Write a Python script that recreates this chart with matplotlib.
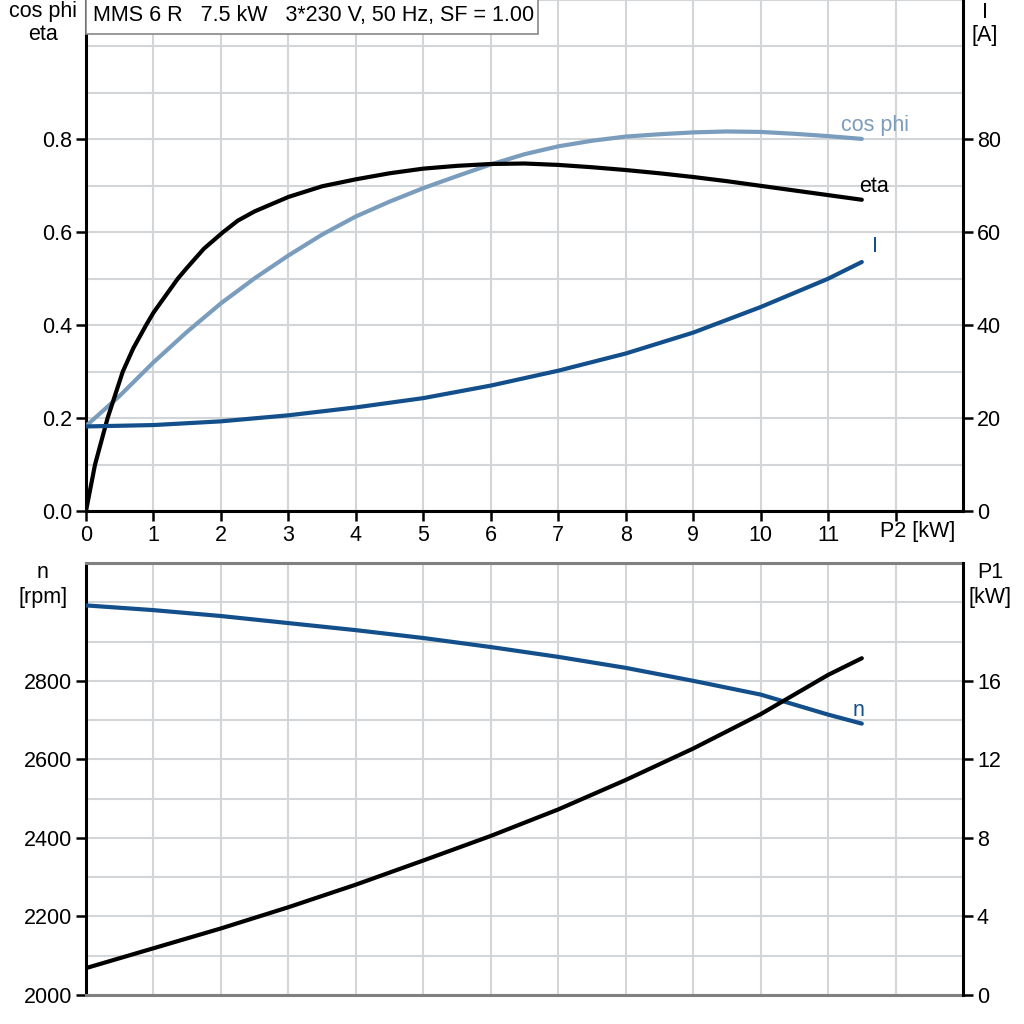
import matplotlib
matplotlib.use("Agg")
import matplotlib.pyplot as plt
from matplotlib.patches import Rectangle
import numpy as np

plt.rcParams['font.family'] = ['Liberation Sans', 'DejaVu Sans']

# ---- data ----
title = "MMS 6 R   7.5 kW   3*230 V, 50 Hz, SF = 1.00"

p2_eta = [0, 0.134, 0.32, 0.545, 0.7, 0.89, 1, 1.36, 1.5, 1.75, 2.03, 2.25, 2.5, 3, 3.5, 4,
          4.5, 5, 5.5, 6, 6.5, 7, 7.5, 8, 8.5, 9, 9.5, 10, 10.5, 11, 11.5]
eta = [0.0, 0.1, 0.2, 0.3, 0.35, 0.4, 0.427, 0.5, 0.524, 0.565, 0.6, 0.625, 0.645, 0.676,
       0.699, 0.714, 0.727, 0.737, 0.743, 0.747, 0.748, 0.745, 0.74, 0.734, 0.727, 0.719,
       0.71, 0.70, 0.69, 0.68, 0.67]

p2_cos = [0, 0.5, 1, 1.5, 2, 2.5, 3, 3.5, 4, 4.5, 5, 5.5, 6, 6.5, 7, 7.5, 8, 8.5, 9,
          9.5, 10, 10.5, 11, 11.5]
cosphi = [0.183, 0.248, 0.32, 0.386, 0.447, 0.501, 0.55, 0.595, 0.634, 0.666, 0.695, 0.721,
          0.746, 0.768, 0.785, 0.797, 0.806, 0.811, 0.815, 0.817, 0.816, 0.812, 0.807, 0.801]

p2_i = [0, 1, 2, 3, 4, 5, 6, 7, 8, 9, 10, 11, 11.5]
current = [18.2, 18.5, 19.3, 20.6, 22.3, 24.3, 27.0, 30.2, 33.9, 38.4, 43.9, 50.0, 53.6]

p2_n = [0, 1, 2, 3, 4, 5, 6, 7, 8, 9, 10, 11, 11.5]
speed = [2992, 2980, 2965, 2947, 2929, 2909, 2886, 2861, 2833, 2800, 2765, 2714, 2691]

p2_p1 = [0, 1, 2, 3, 4, 5, 6, 7, 8, 9, 10, 11, 11.5]
p1 = [1.37, 2.38, 3.39, 4.47, 5.62, 6.85, 8.1, 9.45, 10.95, 12.55, 14.3, 16.3, 17.15]

xticks = list(range(0, 13))
xticklabels = [str(v) for v in range(0, 12)] + [""]

LIGHT = "#7a9cbd"
DARK = "#134f8a"
GRID = "#d3d6d9"
LW = 3.0
FS = 15.5

W = H = 1024


def fx(px):
    return px / W


def fy(py):
    return 1 - py / H


fig = plt.figure(figsize=(10.24, 10.24), dpi=100)

# ---------- top panel ----------
ax1 = fig.add_axes([fx(86), fy(511), fx(963) - fx(86), fy(0) - fy(511)])
ax1.set_xlim(0, 13)
ax1.set_ylim(0, 1.1)
ax1.set_xticks(xticks)
ax1.set_xticklabels(xticklabels, fontsize=FS)
ax1.set_yticks([0, 0.2, 0.4, 0.6, 0.8])
ax1.set_yticklabels(["0.0", "0.2", "0.4", "0.6", "0.8"], fontsize=FS)
ax1.set_yticks(np.arange(0.1, 1.11, 0.1), minor=True)
ax1.tick_params(axis='y', which='minor', length=0)
ax1.grid(True, which='both', color=GRID, lw=1.5)
ax1.set_axisbelow(True)
ax1.tick_params(axis='both', which='major', direction='out', length=7, width=1.8, pad=3)
for s in ['left', 'bottom']:
    ax1.spines[s].set_linewidth(2.2)
    ax1.spines[s].set_color('black')
ax1.spines['top'].set_visible(False)
ax1.spines['right'].set_visible(False)

ax1r = ax1.twinx()
ax1r.set_ylim(0, 110)
ax1r.set_yticks([0, 20, 40, 60, 80])
ax1r.set_yticklabels(["0", "20", "40", "60", "80"], fontsize=FS)
ax1r.tick_params(axis='y', direction='out', length=7, width=1.8, pad=3)
ax1r.spines['right'].set_linewidth(2.2)
ax1r.spines['right'].set_color('black')
for s in ['top', 'left', 'bottom']:
    ax1r.spines[s].set_visible(False)

ax1.plot(p2_cos, cosphi, color=LIGHT, lw=LW, solid_capstyle='round', solid_joinstyle='round', zorder=3)
ax1.plot(p2_eta, eta, color='black', lw=LW, solid_capstyle='round', solid_joinstyle='round', zorder=3)
ax1r.plot(p2_i, current, color=DARK, lw=LW, solid_capstyle='round', solid_joinstyle='round', zorder=3)

fig.text(fx(875), fy(125), "cos phi", color=LIGHT, fontsize=FS, ha='center', va='center')
fig.text(fx(874), fy(186), "eta", color='black', fontsize=FS, ha='center', va='center')
fig.text(fx(875), fy(247), "I", color=DARK, fontsize=FS, ha='center', va='center')
fig.text(fx(918), fy(531), "P2 [kW]", fontsize=FS, ha='center', va='center')

# title box
fig.patches.append(Rectangle((fx(86), fy(34)), fx(538) - fx(86), fy(-2) - fy(34),
                             transform=fig.transFigure, fc='white', ec='#888888', lw=1.2,
                             zorder=5))
fig.text(fx(93), fy(16), title, fontsize=FS, ha='left', va='center', zorder=6)

fig.text(fx(43), fy(12), "cos phi", fontsize=FS, ha='center', va='center')
fig.text(fx(43), fy(35), "eta", fontsize=FS, ha='center', va='center')
fig.text(fx(985), fy(12), "I", fontsize=FS, ha='center', va='center')
fig.text(fx(985), fy(35), "[A]", fontsize=FS, ha='center', va='center')

# ---------- bottom panel ----------
ax2 = fig.add_axes([fx(86), fy(995), fx(963) - fx(86), fy(563) - fy(995)])
ax2.set_xlim(0, 13)
ax2.set_ylim(2000, 3100)
ax2.set_xticks(xticks)
ax2.tick_params(axis='x', length=0, labelbottom=False)
ax2.set_yticks([2000, 2200, 2400, 2600, 2800])
ax2.set_yticklabels(["2000", "2200", "2400", "2600", "2800"], fontsize=FS)
ax2.set_yticks(np.arange(2100, 3101, 100), minor=True)
ax2.tick_params(axis='y', which='minor', length=0)
ax2.tick_params(axis='y', which='major', direction='out', length=7, width=1.8, pad=3)
ax2.grid(True, which='both', color=GRID, lw=1.5)
ax2.set_axisbelow(True)
ax2.spines['left'].set_linewidth(2.2)
ax2.spines['left'].set_color('black')
for s in ['top', 'bottom']:
    ax2.spines[s].set_linewidth(2.2)
    ax2.spines[s].set_color('#808080')
ax2.spines['right'].set_visible(False)

ax2r = ax2.twinx()
ax2r.set_ylim(0, 22)
ax2r.set_yticks([0, 4, 8, 12, 16])
ax2r.set_yticklabels(["0", "4", "8", "12", "16"], fontsize=FS)
ax2r.tick_params(axis='y', direction='out', length=7, width=1.8, pad=3)
ax2r.spines['right'].set_linewidth(2.2)
ax2r.spines['right'].set_color('black')
for s in ['top', 'left', 'bottom']:
    ax2r.spines[s].set_visible(False)

ax2.plot(p2_n, speed, color=DARK, lw=LW, solid_capstyle='round', solid_joinstyle='round', zorder=3)
ax2r.plot(p2_p1, p1, color='black', lw=LW, solid_capstyle='round', solid_joinstyle='round', zorder=3)
fig.text(fx(858), fy(710), "n", color=DARK, fontsize=FS, ha='center', va='center')

fig.text(fx(43), fy(573), "n", fontsize=FS, ha='center', va='center')
fig.text(fx(43), fy(598), "[rpm]", fontsize=FS, ha='center', va='center')
fig.text(fx(990), fy(573), "P1", fontsize=FS, ha='center', va='center')
fig.text(fx(990), fy(598), "[kW]", fontsize=FS, ha='center', va='center')

fig.savefig("out.png", dpi=100)
